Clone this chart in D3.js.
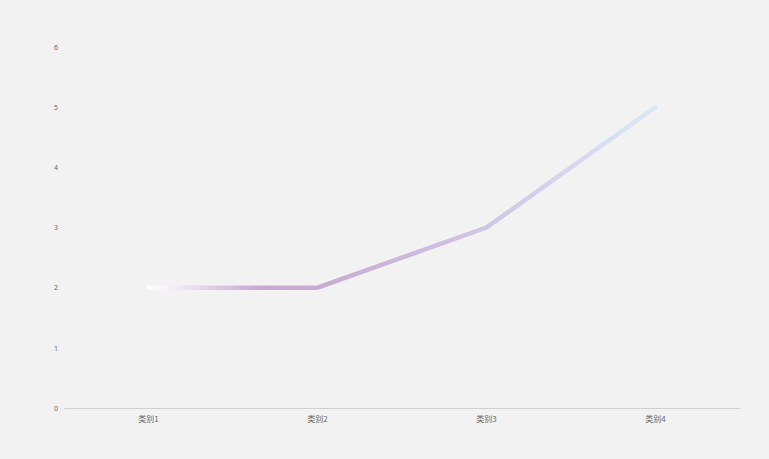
<!DOCTYPE html>
<html>
<head>
<meta charset="utf-8">
<script src="https://cdn.jsdelivr.net/npm/d3@7"></script>
<style>
  body { margin: 0; background: #f2f2f2; }
  svg { display: block; }
</style>
</head>
<body>
<div id="chart"></div>
<script>
// Data
const categories = ["类别1", "类别2", "类别3", "类别4"];
const values = [2, 2, 3, 5];
const yTicks = [0, 1, 2, 3, 4, 5, 6];

const width = 769, height = 459;
const margins = {top: 47, right: 29, bottom: 51, left: 64};

const data = categories.map((c, i) => ({category: c, value: values[i]}));

/* Create the SVG container */
const svg = d3.select("#chart")
  .append("svg")
  .attr("width", width)
  .attr("height", height)
  .style("font-family", "'Noto Sans CJK SC', 'Noto Sans', sans-serif");

svg.append("rect")
  .attr("width", width)
  .attr("height", height)
  .attr("fill", "#f2f2f2");

/* Scales */
const xScale = d3.scaleBand()
  .domain(categories)
  .range([margins.left, width - margins.right]);

const yScale = d3.scaleLinear()
  .domain([0, 6])
  .range([height - margins.bottom, margins.top]);

const xPos = d => xScale(d) + xScale.bandwidth() / 2;

/* Gradient along the line, white -> purple -> light blue */
const grad = svg.append("defs")
  .append("linearGradient")
  .attr("id", "lineGrad")
  .attr("gradientUnits", "userSpaceOnUse")
  .attr("x1", xPos(categories[0]))
  .attr("x2", xPos(categories[categories.length - 1]))
  .attr("y1", 0)
  .attr("y2", 0);

grad.selectAll("stop")
  .data([
    {offset: "0%", color: "#ffffff"},
    {offset: "22%", color: "#c9a7d2"},
    {offset: "35%", color: "#c8acd4"},
    {offset: "67%", color: "#d0c6e4"},
    {offset: "100%", color: "#dce8f6"}
  ])
  .join("stop")
    .attr("offset", d => d.offset)
    .attr("stop-color", d => d.color);

/* Y axis labels only (no line, no ticks) */
const yGroup = svg.append("g")
  .attr("transform", `translate(${margins.left}, 0)`)
  .call(d3.axisLeft(yScale).tickValues(yTicks).tickFormat(d3.format("d")).tickSize(0).tickPadding(6))
  .call(g => g.select(".domain").remove());

yGroup.selectAll("text")
  .attr("fill", "#666666")
  .style("font-size", "7px")
  .style("font-family", "'Noto Sans', sans-serif");

/* X axis */
const xGroup = svg.append("g")
  .attr("transform", `translate(0, ${height - margins.bottom})`)
  .call(d3.axisBottom(xScale).tickSize(0).tickPadding(8));

xGroup.select(".domain")
  .attr("stroke", "#d0d0d0")
  .attr("stroke-width", 1);

xGroup.selectAll("text")
  .attr("fill", "#666666")
  .style("font-size", "8px")
  .style("font-family", "'Noto Sans CJK SC', sans-serif");

/* Line */
const line = d3.line()
  .x(d => xPos(d.category))
  .y(d => yScale(d.value));

svg.append("path")
  .datum(data)
  .attr("d", line)
  .attr("fill", "none")
  .attr("stroke", "url(#lineGrad)")
  .attr("stroke-width", 4.5)
  .attr("stroke-linejoin", "round")
  .attr("stroke-linecap", "round");
</script>
</body>
</html>
